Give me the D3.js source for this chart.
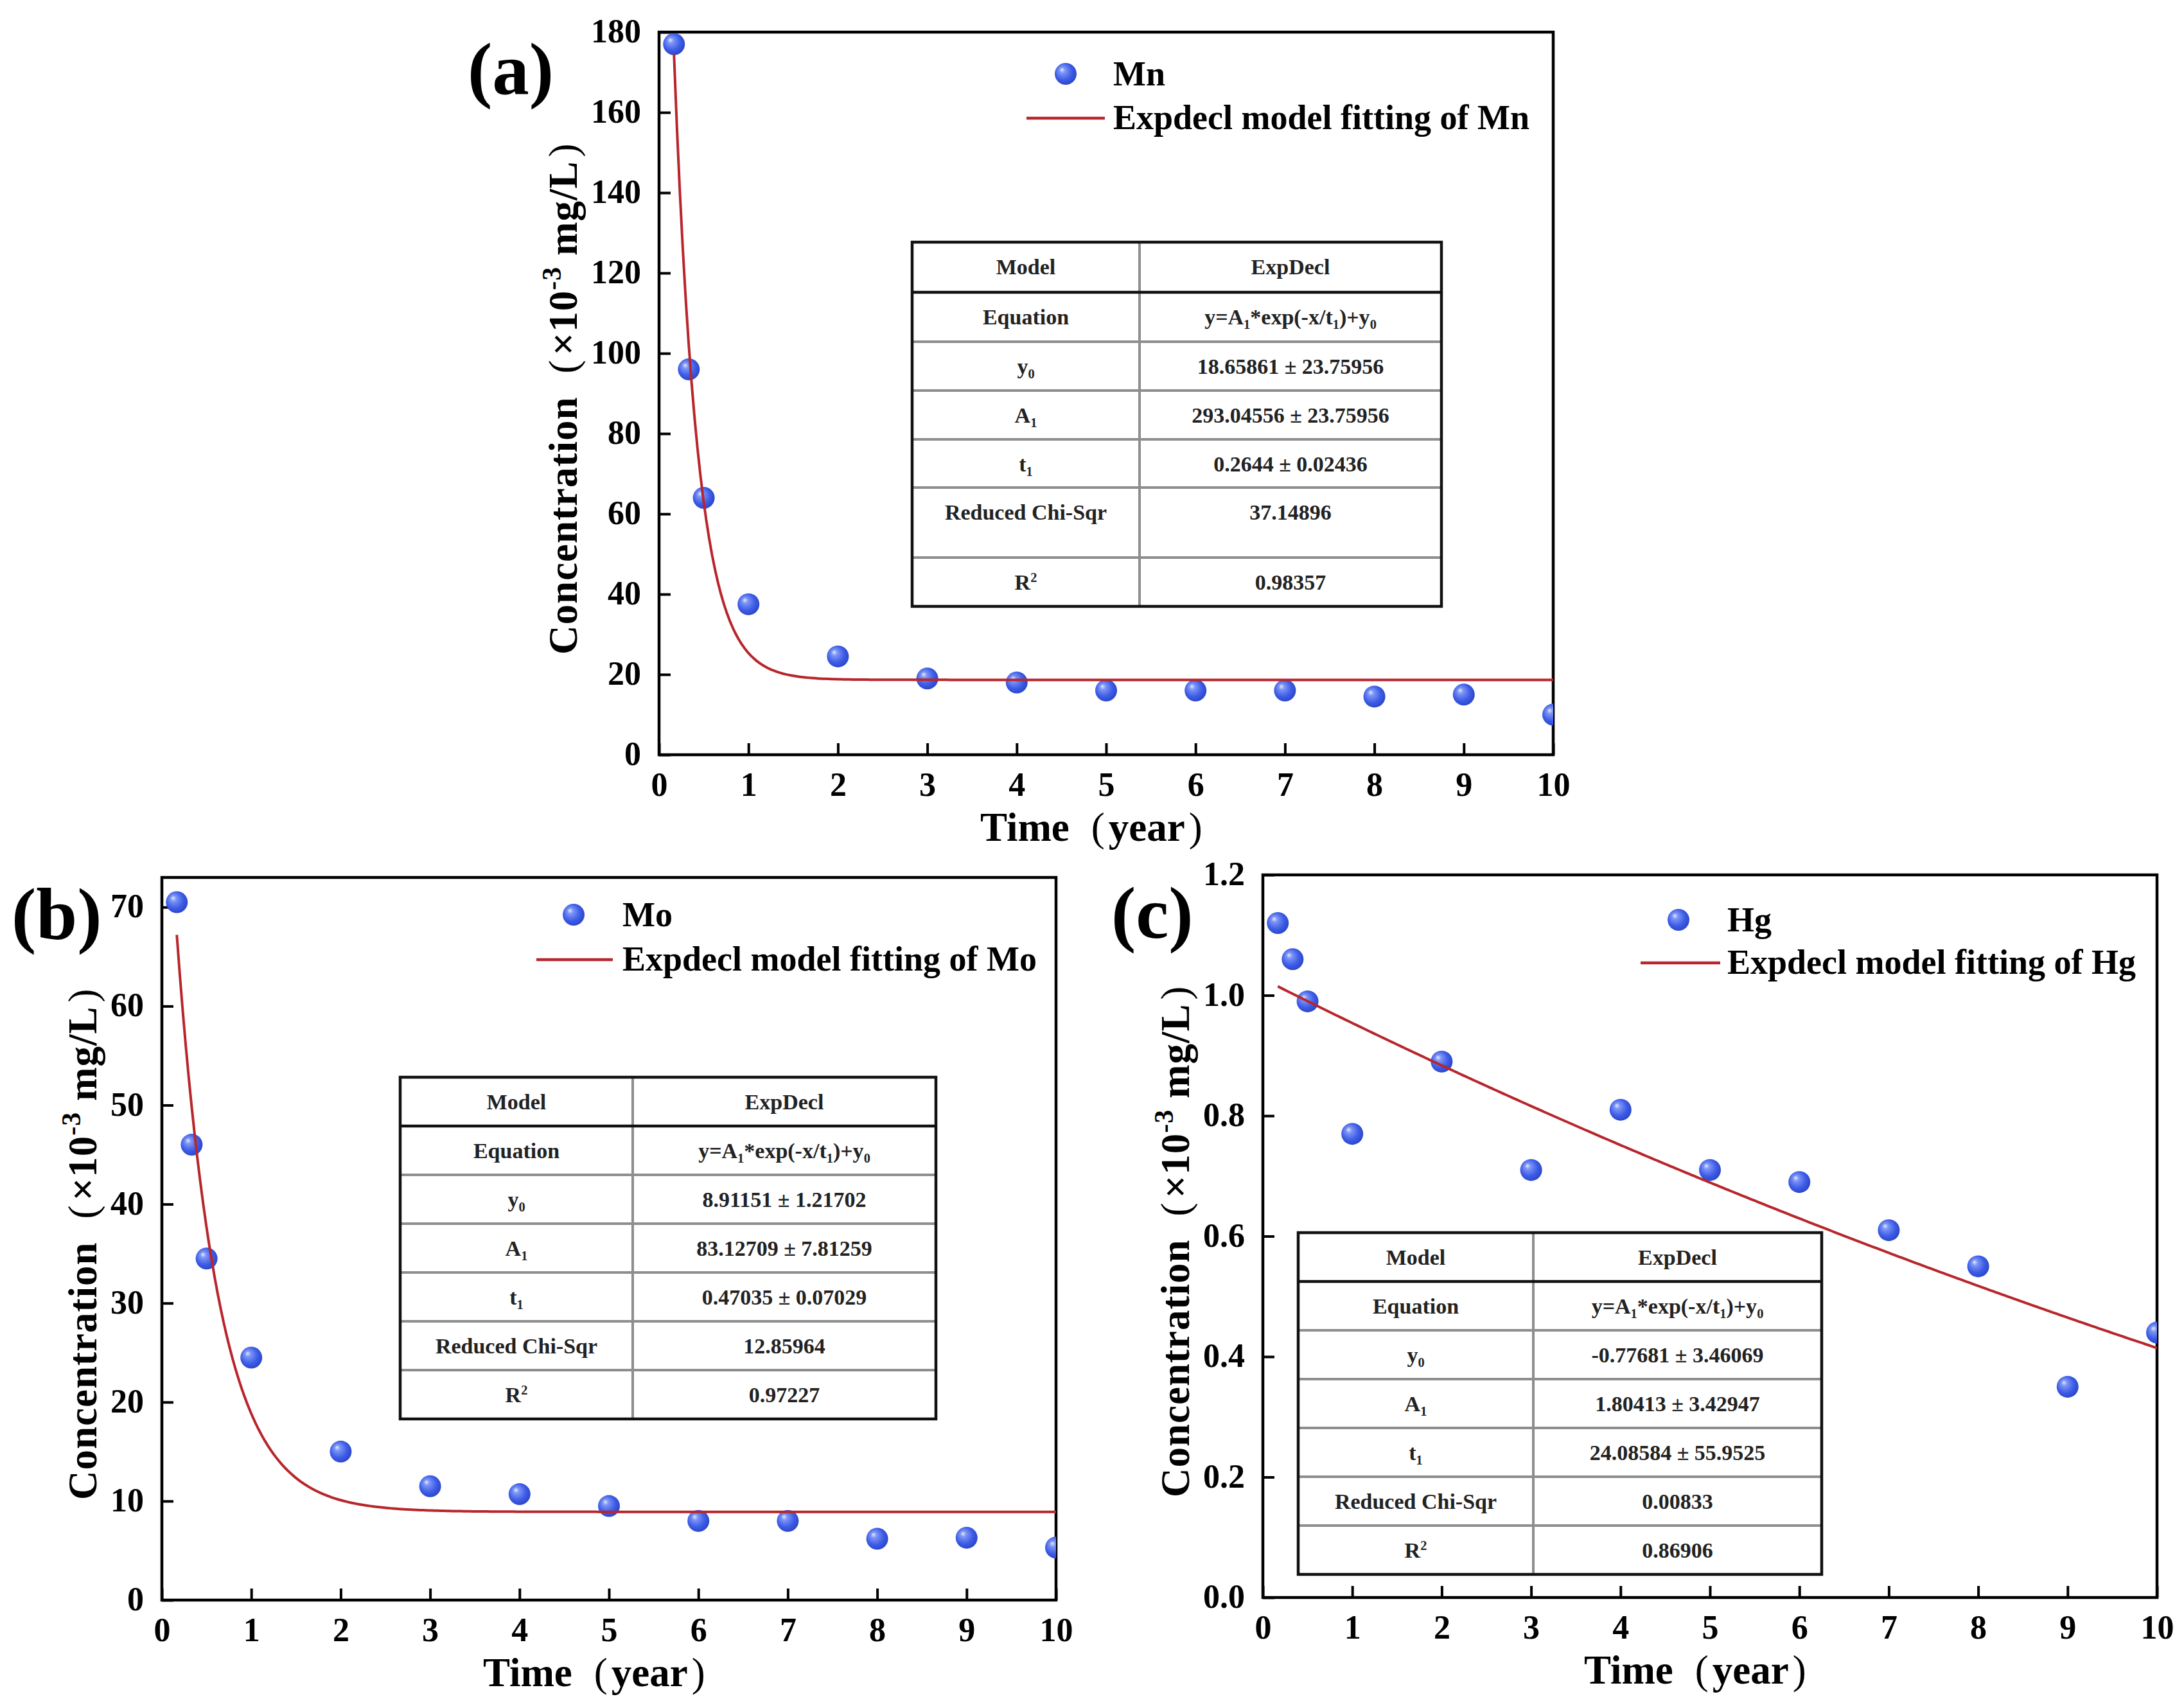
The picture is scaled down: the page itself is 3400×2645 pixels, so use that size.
<!DOCTYPE html>
<html>
<head>
<meta charset="utf-8">
<script src="https://cdn.jsdelivr.net/npm/d3@7"></script>
<style>
  body { margin: 0; background: #fff; }
</style>
</head>
<body>
<div id="chart"></div>
<script>
// Sampling times (year)
var timeYears = [0.167, 0.333, 0.5, 1, 2, 3, 4, 5, 6, 7, 8, 9, 10];

// Measured concentrations (x10^-3 mg/L)
var mnValues = [177, 96, 64, 37.5, 24.5, 19, 18, 16, 16, 16, 14.5, 15, 10];
var moValues = [70.5, 46, 34.5, 24.5, 15, 11.5, 10.7, 9.5, 8, 8, 6.2, 6.3, 5.3];
var hgValues = [1.12, 1.06, 0.99, 0.77, 0.89, 0.71, 0.81, 0.71, 0.69, 0.61, 0.55, 0.35, 0.44];

// ExpDecl fit parameters: [y0, A1, t1]
var mnFit = [18.65861, 293.04556, 0.2644];
var moFit = [8.91151, 83.12709, 0.47035];
var hgFit = [-0.77681, 1.80413, 24.08584];

// Table text
var tableLabels = ["Model", "Equation", "y_0", "A_1", "t_1", "Reduced Chi-Sqr", "R^2"];
var mnTable = ["ExpDecl", "y=A_1*exp(-x/t_1)+y_0", "18.65861 ± 23.75956", "293.04556 ± 23.75956", "0.2644 ± 0.02436", "37.14896", "0.98357"];
var moTable = ["ExpDecl", "y=A_1*exp(-x/t_1)+y_0", "8.91151 ± 1.21702", "83.12709 ± 7.81259", "0.47035 ± 0.07029", "12.85964", "0.97227"];
var hgTable = ["ExpDecl", "y=A_1*exp(-x/t_1)+y_0", "-0.77681 ± 3.46069", "1.80413 ± 3.42947", "24.08584 ± 55.9525", "0.00833", "0.86906"];

// Tick values
var xTicks = [0, 1, 2, 3, 4, 5, 6, 7, 8, 9, 10];
var mnTicks = [0, 20, 40, 60, 80, 100, 120, 140, 160, 180];
var moTicks = [0, 10, 20, 30, 40, 50, 60, 70];
var hgTicks = [0, 0.2, 0.4, 0.6, 0.8, 1.0, 1.2];

var svgWidth = 3400;
var svgHeight = 2645;
var plotW = 1392, plotH = 1125;
var serif = "'Liberation Serif', 'Times New Roman', serif";

var svg = d3.select("#chart")
  .append("svg")
  .attr("width", svgWidth)
  .attr("height", svgHeight)
  .style("font-family", serif)
  .style("font-weight", "bold");

svg.append("rect").attr("width", svgWidth).attr("height", svgHeight).attr("fill", "#fff");

// sphere-like marker fill
var grad = svg.append("defs").append("radialGradient")
  .attr("id", "ball").attr("cx", "45%").attr("cy", "45%").attr("r", "60%")
  .attr("fx", "32%").attr("fy", "30%");
grad.append("stop").attr("offset", "0%").attr("stop-color", "#e4eaff");
grad.append("stop").attr("offset", "22%").attr("stop-color", "#7d95f6");
grad.append("stop").attr("offset", "65%").attr("stop-color", "#3d5ce6");
grad.append("stop").attr("offset", "100%").attr("stop-color", "#2a42c4");

// write text with _x subscripts and ^x superscripts
function richText(textSel, str, size) {
  var segs = [];
  for (var i = 0; i < str.length; i++) {
    var c = str[i], mode = 0;
    if ((c === "_" || c === "^") && i + 1 < str.length) {
      mode = c === "_" ? 1 : -1;
      c = str[++i];
    }
    if (segs.length && segs[segs.length - 1].mode === mode) segs[segs.length - 1].t += c;
    else segs.push({ t: c, mode: mode });
  }
  var off = 0;
  segs.forEach(function(s) {
    var target = s.mode === 1 ? size * 0.22 : s.mode === -1 ? -size * 0.36 : 0;
    var ts = textSel.append("tspan").attr("dy", target - off).text(s.t);
    if (s.mode) ts.attr("font-size", size * 0.6);
    off = target;
  });
}

// thin full-width style bracket
function bracket(textSel, ch, before, after) {
  textSel.append("tspan").attr("dx", before).style("font-weight", "normal").text(ch);
  if (after) textSel.append("tspan").attr("dx", after).text("");
}

var panels = [
  { id: "a", name: "Mn", values: mnValues, fit: mnFit, table: mnTable, ticks: mnTicks, yMax: 180, fmt: d3.format("d"),
    left: 1026, top: 50, titleOff: 128,
    legend: { dot: [633, 65], line: [572, 694, 134], textX: 707 },
    tbl: { x: 1420, y: 377, w: 824, c1: 354, rows: [78, 77, 76, 76, 75, 109, 76] } },
  { id: "b", name: "Mo", values: moValues, fit: moFit, table: moTable, ticks: moTicks, yMax: 73, fmt: d3.format("d"),
    left: 252, top: 1366, titleOff: 102,
    legend: { dot: [641, 58], line: [583, 702, 128], textX: 717 },
    tbl: { x: 623, y: 1677, w: 834, c1: 362, rows: [76, 76, 76, 76, 76, 76, 76] } },
  { id: "c", name: "Hg", values: hgValues, fit: hgFit, table: hgTable, ticks: hgTicks, yMax: 1.2, fmt: d3.format(".1f"),
    left: 1966, top: 1362, titleOff: 115,
    legend: { dot: [647, 70], line: [588, 712, 137], textX: 723 },
    tbl: { x: 2021, y: 1919, w: 815, c1: 366, rows: [76, 76, 76, 76, 76, 76, 76] } }
];

panels.forEach(function(p) {
  var g = svg.append("g").attr("transform", `translate(${p.left}, ${p.top})`);

  var xScale = d3.scaleLinear().domain([0, 10]).range([0, plotW]);
  var yScale = d3.scaleLinear().domain([0, p.yMax]).range([plotH, 0]);

  g.append("clipPath").attr("id", "clip-" + p.id)
    .append("rect").attr("width", plotW).attr("height", plotH);

  // axes with inward ticks
  var xAxis = g.append("g")
    .attr("transform", `translate(0, ${plotH})`)
    .call(d3.axisBottom(xScale).tickValues(xTicks).tickSize(-18).tickPadding(27));
  var yAxis = g.append("g")
    .call(d3.axisLeft(yScale).tickValues(p.ticks).tickFormat(p.fmt).tickSize(-18).tickPadding(28));
  [xAxis, yAxis].forEach(function(ax) {
    ax.select(".domain").remove();
    ax.attr("font-family", null).attr("font-size", null);
    ax.selectAll(".tick line").attr("stroke", "#000").attr("stroke-width", 4);
    ax.selectAll(".tick text").attr("fill", "#000").style("font-size", "52px");
  });
  yAxis.selectAll(".tick text").attr("dy", "0.30em");

  // frame
  g.append("rect").attr("width", plotW).attr("height", plotH)
    .attr("fill", "none").attr("stroke", "#000").attr("stroke-width", 4.5);

  // data points
  var plotArea = g.append("g").attr("clip-path", `url(#clip-${p.id})`);
  plotArea.selectAll("circle")
    .data(p.values)
    .enter()
    .append("circle")
    .attr("cx", (d, i) => xScale(timeYears[i]))
    .attr("cy", d => yScale(d))
    .attr("r", 17)
    .attr("fill", "url(#ball)");

  // ExpDecl model curve from the fitted parameters in the table
  var xs = d3.range(0, 301).map(i => timeYears[0] + (10 - timeYears[0]) * i / 300);
  var line = d3.line()
    .x(d => xScale(d))
    .y(d => yScale(p.fit[1] * Math.exp(-d / p.fit[2]) + p.fit[0]));
  plotArea.append("path")
    .attr("d", line(xs))
    .attr("fill", "none")
    .attr("stroke", "#b8262c")
    .attr("stroke-width", 4);

  // legend
  var lg = p.legend;
  g.append("circle").attr("cx", lg.dot[0]).attr("cy", lg.dot[1]).attr("r", 17).attr("fill", "url(#ball)");
  g.append("text").attr("x", lg.textX).attr("y", lg.dot[1] + 18).style("font-size", "54px").text(p.name);
  g.append("line").attr("x1", lg.line[0]).attr("x2", lg.line[1]).attr("y1", lg.line[2]).attr("y2", lg.line[2])
    .attr("stroke", "#b8262c").attr("stroke-width", 4.5);
  g.append("text").attr("x", lg.textX).attr("y", lg.line[2] + 17).style("font-size", "54px")
    .text("Expdecl model fitting of " + p.name);

  // axis titles
  var xt = g.append("text")
    .attr("x", 500).attr("y", plotH + 134)
    .style("font-size", "63px");
  xt.append("tspan").text("Time");
  bracket(xt, "(", 34);
  xt.append("tspan").attr("dx", 6).text("year");
  bracket(xt, ")", 6);

  var yt = g.append("text")
    .attr("transform", `translate(${-p.titleOff}, 969) rotate(-90)`)
    .style("font-size", "63px")
    .style("letter-spacing", "1px");
  yt.append("tspan").text("Concentration");
  bracket(yt, "(", 36);
  yt.append("tspan").attr("dx", 6).text("×10");
  yt.append("tspan").attr("dy", -25).style("font-size", "42px").text("-3");
  yt.append("tspan").attr("dy", 25).text(" mg/L");
  bracket(yt, ")", 6);

  // panel letter
  g.append("text")
    .attr("x", { a: -298, b: -234, c: -236 }[p.id])
    .attr("y", { a: 96, b: 96, c: 98 }[p.id])
    .style("font-size", "115px")
    .text("(" + p.id + ")");

  // parameter table
  var t = p.tbl;
  var tg = svg.append("g").attr("transform", `translate(${t.x}, ${t.y})`);
  var rowTop = [0];
  t.rows.forEach(function(h, i) { rowTop.push(rowTop[i] + h); });
  var tH = rowTop[rowTop.length - 1];
  tg.append("rect").attr("width", t.w).attr("height", tH).attr("fill", "#fff");

  rowTop.slice(2, -1).forEach(function(yy) {
    tg.append("line").attr("x1", 0).attr("x2", t.w).attr("y1", yy).attr("y2", yy)
      .attr("stroke", "#8e8e8e").attr("stroke-width", 4);
  });
  tg.append("line").attr("x1", t.c1).attr("x2", t.c1).attr("y1", 0).attr("y2", tH)
    .attr("stroke", "#8e8e8e").attr("stroke-width", 4);
  tg.append("line").attr("x1", 0).attr("x2", t.w).attr("y1", rowTop[1]).attr("y2", rowTop[1])
    .attr("stroke", "#111").attr("stroke-width", 4.5);
  tg.append("rect").attr("width", t.w).attr("height", tH)
    .attr("fill", "none").attr("stroke", "#111").attr("stroke-width", 4.5);

  tableLabels.forEach(function(lab, i) {
    var cy = rowTop[i] + 38 + 12;
    var tl = tg.append("text").attr("x", t.c1 / 2).attr("y", cy)
      .attr("text-anchor", "middle").style("font-size", "34px").attr("fill", "#222");
    richText(tl, lab, 34);
    var tv = tg.append("text").attr("x", (t.c1 + t.w) / 2).attr("y", cy)
      .attr("text-anchor", "middle").style("font-size", "34px").attr("fill", "#222");
    richText(tv, p.table[i], 34);
  });
});
</script>
</body>
</html>
